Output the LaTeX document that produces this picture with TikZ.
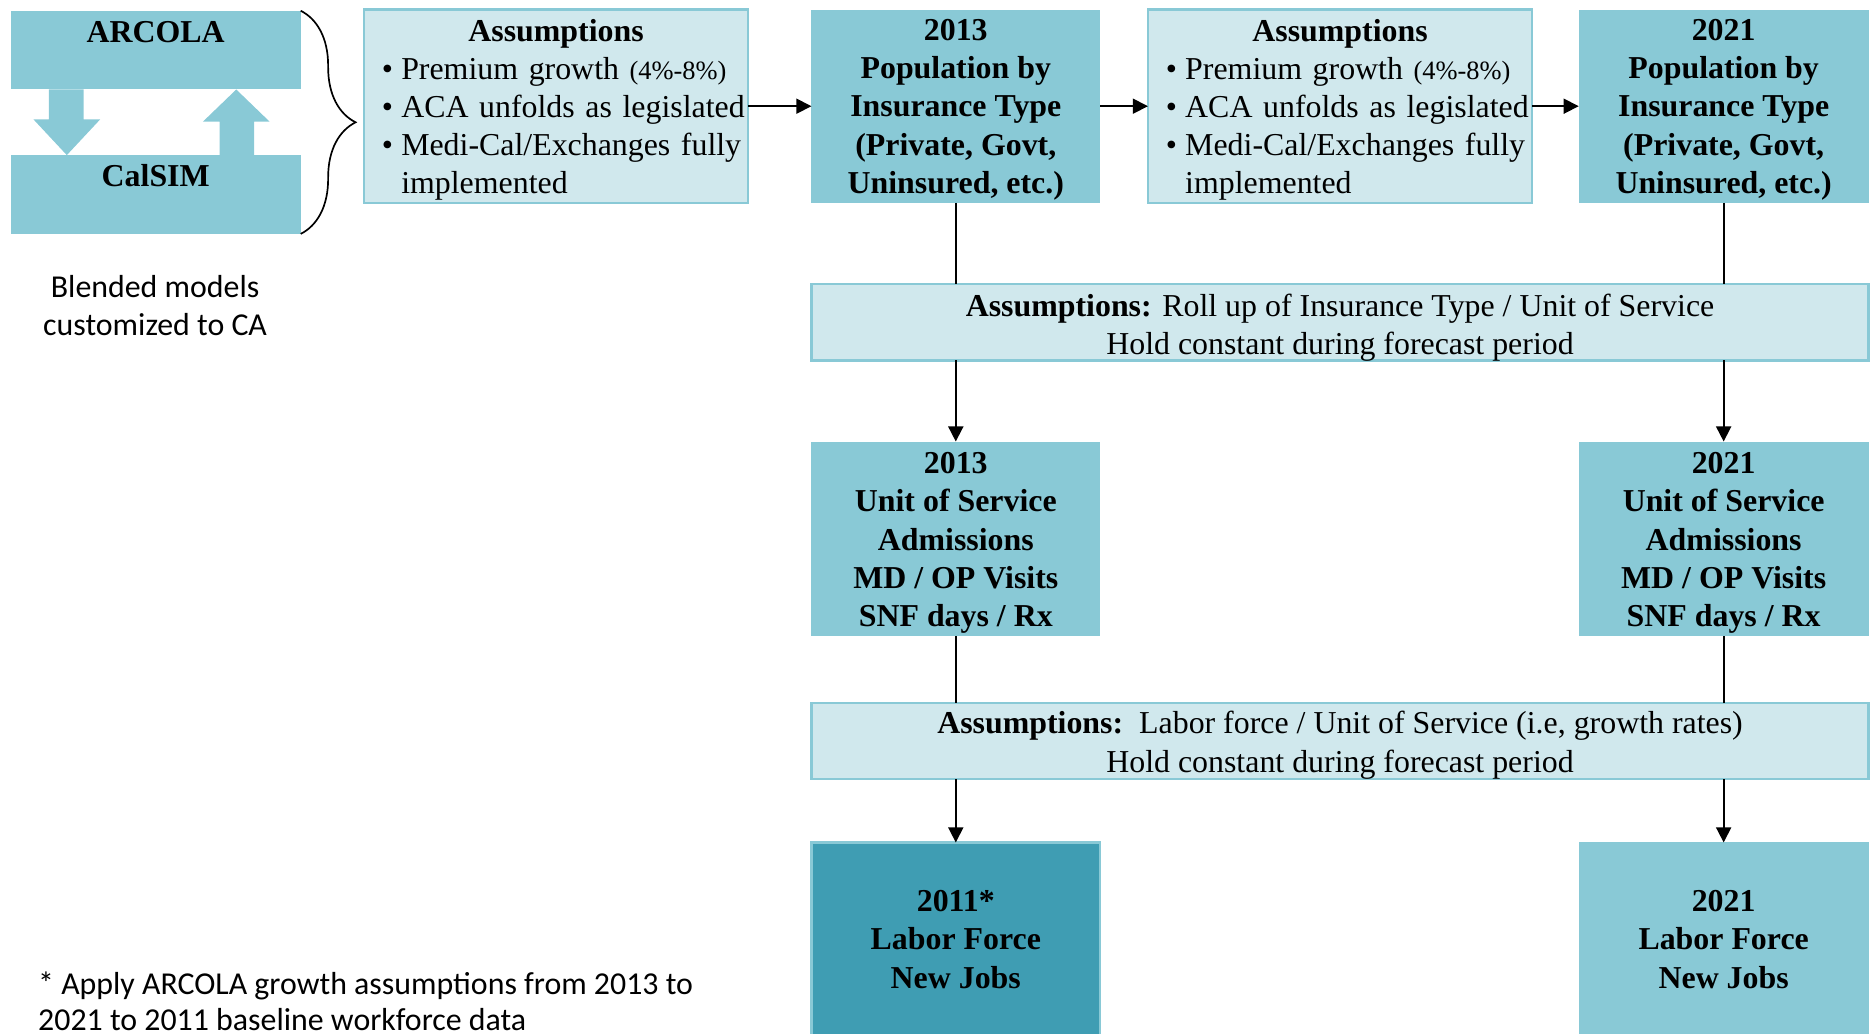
\documentclass[tikz,border=0pt]{standalone}
\usepackage{fontspec}
\setmainfont{Liberation Serif}
\newfontfamily\calibri{Carlito}
\usetikzlibrary{arrows.meta}
\usetikzlibrary{decorations.pathreplacing}

\definecolor{popteal}{HTML}{89C9D6}
\definecolor{assumfill}{HTML}{D0E8ED}
\definecolor{jobsteal}{HTML}{3F9DB3}

\newcommand{\smallpct}[1]{{\fontsize{6.3}{7}\selectfont #1}}
\newcommand{\bitem}[1]{\par\noindent\hangindent=4.6pt\hangafter=1\makebox[4.6pt][l]{\textbullet}#1\par}
\newcommand{\growthtext}{%
    {\centering\textbf{Assumptions}\par}%
    \raggedright\leftskip=4.3pt
    \bitem{Premium growth \smallpct{(4\%-8\%)}}%
    \bitem{ACA unfolds as legislated}%
    \bitem{Medi-Cal/Exchanges fully\newline implemented}}

\begin{document}
\begin{tikzpicture}% flow of the forecast
            \tikzstyle{base} = [font=\fontsize{7.6}{9.1}\selectfont, inner sep=0pt, outer sep=0pt]
            \tikzstyle{model} = [base, fill=popteal, font=\bfseries\fontsize{7.6}{9.1}\selectfont, minimum width=2.43cm, inner ysep=0.09cm, text height=0.176cm, text depth=0.304cm, anchor=north]
            \tikzstyle{pop} = [base, fill=popteal, font=\bfseries\fontsize{7.6}{9.1}\selectfont, align=center, minimum width=2.42cm, minimum height=1.62cm, text height=1.54cm, text depth=0.08cm]
            \tikzstyle{assum} = [base, fill=assumfill, draw=popteal, line width=0.6pt, align=center]
            \tikzstyle{flow} = [-{Triangle[length=3.6pt, width=3.6pt]}, line width=0.4pt]
            \useasboundingbox (0, 0) rectangle (15.68, -8.66);
            % blended models
            \node[model] (arcola) at (1.305, -0.09) {ARCOLA};
            \node[model] (calsim) at (1.305, -1.30) {CalSIM};
            \fill[popteal] (0.41, -0.75) -- (0.70, -0.75) -- (0.70, -1.00) -- (0.84, -1.00) -- (0.56, -1.30) -- (0.28, -1.00) -- (0.41, -1.00) -- cycle;
            \fill[popteal] (1.84, -1.30) -- (2.13, -1.30) -- (2.13, -1.02) -- (2.26, -1.02) -- (1.98, -0.75) -- (1.70, -1.02) -- (1.84, -1.02) -- cycle;
            \draw[line width=0.4pt, decorate, decoration={brace, amplitude=0.46cm}] (2.52, -0.09) -- (2.52, -1.96);
            \node[base, align=center, font=\calibri\fontsize{7.6}{9.1}\selectfont] (blended) at (1.30, -2.56) {Blended models\\customized to CA};
            % first row
            \node[assum, text width=3.22cm, text height=0.265cm, text depth=1.355cm, minimum height=1.62cm, align=left] (assum 1) at (4.66, -0.89) {\growthtext};
            \node[pop] (pop 2013) at (8.01, -0.89) {2013\\Population by\\Insurance Type\\(Private, Govt,\\Uninsured, etc.)};
            \node[assum, text width=3.22cm, text height=0.265cm, text depth=1.355cm, minimum height=1.62cm, align=left] (assum 2) at (11.23, -0.89) {\growthtext};
            \node[pop, minimum width=2.43cm] (pop 2021) at (14.445, -0.89) {2021\\Population by\\Insurance Type\\(Private, Govt,\\Uninsured, etc.)};
            \draw[flow] (assum 1.east) -- (pop 2013.west);
            \draw[flow] (pop 2013.east) -- (assum 2.west);
            \draw[flow] (assum 2.east) -- (pop 2021.west);
            % roll up
            \node[assum, minimum width=8.86cm, minimum height=0.64cm, text height=0.59cm, text depth=0.05cm] (rollup) at (11.23, -2.70) {\textbf{Assumptions:} Roll up of Insurance Type / Unit of Service\\Hold constant during forecast period};
            \node[pop, minimum height=1.63cm, text height=1.55cm, text depth=0.08cm] (unit 2013) at (8.01, -4.515) {2013\\Unit of Service\\Admissions\\MD / OP Visits\\SNF days / Rx};
            \node[pop, minimum width=2.43cm, minimum height=1.63cm, text height=1.55cm, text depth=0.08cm] (unit 2021) at (14.445, -4.515) {2021\\Unit of Service\\Admissions\\MD / OP Visits\\SNF days / Rx};
            \draw[line width=0.4pt] (pop 2013.south) -- (pop 2013.south |- rollup.north);
            \draw[line width=0.4pt] (pop 2021.south) -- (pop 2021.south |- rollup.north);
            \draw[flow] (pop 2013.south |- rollup.south) -- (unit 2013.north);
            \draw[flow] (pop 2021.south |- rollup.south) -- (unit 2021.north);
            % labor force
            \node[assum, minimum width=8.86cm, minimum height=0.64cm, text height=0.58cm, text depth=0.06cm] (labor) at (11.23, -6.21) {\textbf{Assumptions:}\ \ Labor force / Unit of Service (i.e, growth rates)\\Hold constant during forecast period};
            \node[pop, fill=jobsteal, draw=popteal, line width=0.6pt, minimum height=1.64cm, text height=1.22cm, text depth=0.42cm] (jobs 2011) at (8.01, -7.88) {2011*\\Labor Force\\New Jobs};
            \node[pop, minimum width=2.43cm, minimum height=1.64cm, text height=1.22cm, text depth=0.42cm] (jobs 2021) at (14.445, -7.88) {2021\\Labor Force\\New Jobs};
            \draw[line width=0.4pt] (unit 2013.south) -- (unit 2013.south |- labor.north);
            \draw[line width=0.4pt] (unit 2021.south) -- (unit 2021.south |- labor.north);
            \draw[flow] (unit 2013.south |- labor.south) -- (jobs 2011.north);
            \draw[flow] (unit 2021.south |- labor.south) -- (jobs 2021.north);
            \node[base, anchor=west, align=left, font=\calibri\fontsize{7.6}{8.5}\selectfont] (note) at (0.32, -8.39) {* Apply ARCOLA growth assumptions from 2013 to\\2021 to 2011 baseline workforce data};
        \end{tikzpicture}
\end{document}
